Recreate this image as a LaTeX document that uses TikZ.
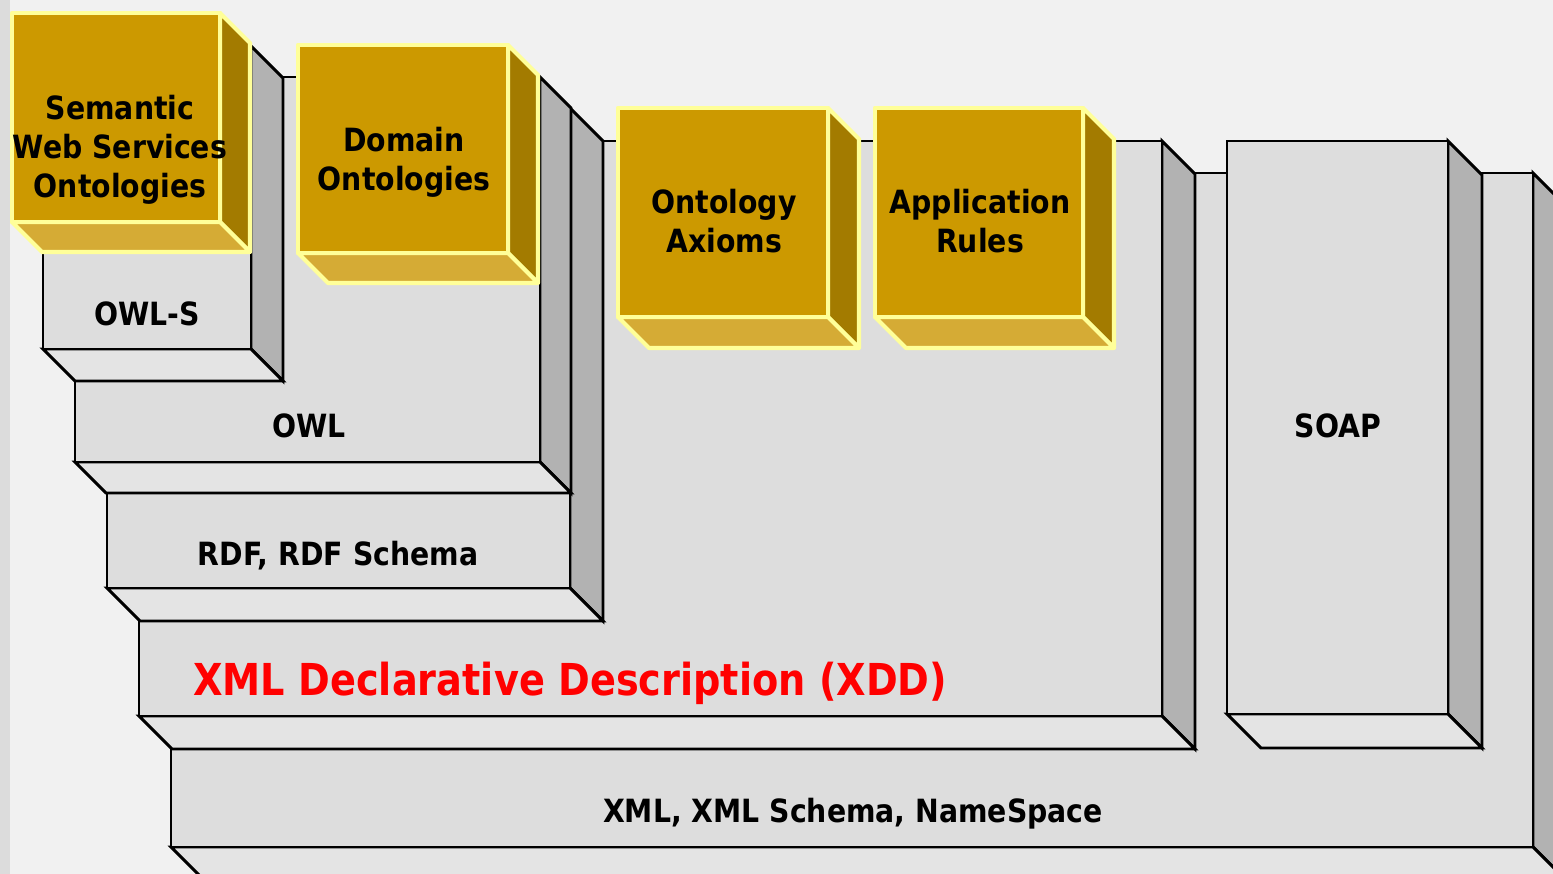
\documentclass[tikz,border=0pt]{standalone}
\usepackage{fontspec}
\newfontfamily\labfont[FakeStretch=0.885]{DejaVu Sans}
\newfontfamily\titlefont[FakeStretch=0.87]{DejaVu Sans}

\definecolor{paper}{HTML}{F1F1F1}
\definecolor{paperstrip}{HTML}{DCDCDC}
\definecolor{slabfront}{HTML}{DDDDDD}
\definecolor{slabside}{HTML}{B2B2B2}
\definecolor{slabbottom}{HTML}{E4E4E4}
\definecolor{goldfront}{HTML}{CC9900}
\definecolor{goldside}{HTML}{A37B00}
\definecolor{goldbottom}{HTML}{D5AB35}
\definecolor{goldedge}{HTML}{FFFF99}
\definecolor{xddred}{HTML}{FF0000}

% a 3-D block: front face, right side face and lower face
% #1 style family, #2 left, #3 top, #4 right, #5 bottom, #6 depth
\newcommand\cuboid[6]{%
  \filldraw[#1 side] (#4,#3) -- ++(#6,#6) -- ++(0,#5-#3) -- (#4,#5) -- cycle;
  \filldraw[#1 bottom] (#2,#5) -- (#4,#5) -- ++(#6,#6) -- ++(#2-#4,0) -- cycle;
  \filldraw[#1 front] (#2,#3) rectangle (#4,#5);
}

\tikzset{
  slab/.style={draw=black, line width=2.9pt, line join=miter},
  slab front/.style={slab, fill=slabfront},
  slab side/.style={slab, fill=slabside},
  slab bottom/.style={slab, fill=slabbottom},
  gold/.style={draw=goldedge, line width=4.2pt, line join=round},
  gold front/.style={gold, fill=goldfront},
  gold side/.style={gold, fill=goldside},
  gold bottom/.style={gold, fill=goldbottom},
  lab/.style={font={\labfont\bfseries\fontsize{32}{39}\selectfont},
              inner sep=0pt, align=center, text=black},
  bigred/.style={font={\titlefont\bfseries\fontsize{44}{50}\selectfont},
              inner sep=0pt, text=xddred},
}

\begin{document}
\begin{tikzpicture}[x=1pt, y=-1pt]
\useasboundingbox (0,0) rectangle (1553,874);
\clip (0,0) rectangle (1553,874);

% backdrop
\fill[paper] (0,0) rectangle (1553,874);
\fill[paperstrip] (0,0) rectangle (10,874);

% grey layers, back to front
\cuboid{slab}{171}{173}{1533}{847}{33}
\cuboid{slab}{1227}{141}{1448}{714}{34}
\cuboid{slab}{139}{141}{1162}{716}{33}
\cuboid{slab}{107}{108}{570}{588}{33}
\cuboid{slab}{75}{77}{540}{462}{31}
\cuboid{slab}{43}{46}{251}{349}{32}

% golden ontology blocks
\cuboid{gold}{12}{13}{220}{222}{30}
\cuboid{gold}{298}{45}{508}{253}{30}
\cuboid{gold}{618}{108}{828}{317}{31}
\cuboid{gold}{875}{108}{1083}{317}{31}

% labels
\node[lab, anchor=base] (xml)  at (853,822) {XML, XML Schema, NameSpace};
\node[bigred, anchor=base west] (xdd) at (193,695) {XML Declarative Description (XDD)};
\node[lab, anchor=base] (soap) at (1338,437) {SOAP};
\node[lab, anchor=base] (rdf)  at (338,565) {RDF, RDF Schema};
\node[lab, anchor=base] (owl)  at (309,437) {OWL};
\node[lab, anchor=base] (owls) at (147,326) {OWL-S};

\node[lab] (sws)  at (120,149.5) {Semantic\\Web Services\\Ontologies};
\node[lab] (dom)  at (404,162) {Domain\\Ontologies};
\node[lab] (axm)  at (724,221.5) {Ontology\\Axioms};
\node[lab] (rul)  at (980,221.5) {Application\\Rules};
\end{tikzpicture}
\end{document}
